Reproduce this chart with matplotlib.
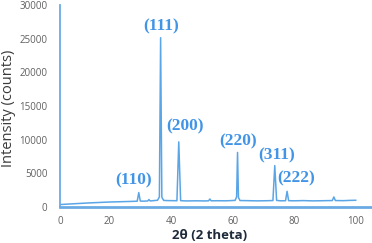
import matplotlib
matplotlib.use("Agg")
import matplotlib.pyplot as plt

# XRD pattern: 2-theta (deg) and intensity (counts)
two_theta = [3.9, 6, 8, 10, 13, 16, 20, 24, 27, 29.0, 29.5, 30.0, 31, 32.4, 32.8, 33.2,
             35.6, 36.2, 36.6, 37.0, 37.6, 39, 41.9, 42.5, 43.1, 45, 48, 51, 52.2, 52.6,
             53.0, 55, 58, 60.8, 61.3, 61.6, 61.9, 62.4, 65, 68, 71, 73.1, 73.7, 74.3,
             75.5, 77.2, 77.7, 78.2, 80, 83, 86, 89, 92.4, 92.9, 93.4, 96, 98, 100]
intensity = [360, 420, 470, 520, 600, 660, 740, 790, 830, 860, 2140, 880, 870, 890, 1100, 900,
             1000, 1500, 25140, 1450, 980, 950, 930, 9670, 940, 900, 920, 900, 920, 1190,
             920, 930, 920, 980, 1500, 8100, 1400, 960, 940, 910, 930, 960, 6150, 980,
             920, 930, 2330, 940, 920, 950, 910, 930, 960, 1490, 960, 940, 980, 1000]

# Miller index labels and where they sit
hkl_labels = ["(110)", "(111)", "(200)", "(220)", "(311)", "(222)"]
hkl_x = [27.8, 36.9, 44.4, 61.8, 74.3, 80.8]
hkl_y = [3880, 26870, 11940, 9700, 7600, 4180]

x_ticks = [20, 40, 60, 80, 100]
y_ticks = [0, 5000, 10000, 15000, 20000, 25000, 30000]

line_color = "#5aa5e6"
spine_color = "#6aaae4"
label_color = "#4294e6"

fig = plt.figure(figsize=(3.72, 2.43), dpi=100)
ax = fig.add_axes([60 / 372, 36 / 243, 312 / 372, 202 / 243])

ax.plot(two_theta, intensity, color=line_color, lw=1.1)

x_min, x_max = 3.9, 105.3
ax.set_xlim(x_min, x_max)
ax.set_ylim(0, 30000)

ax.set_xticks([x_min] + x_ticks)
ax.set_xticklabels(["0"] + [str(t) for t in x_ticks])
ax.set_yticks(y_ticks)
ax.set_yticklabels([str(t) for t in y_ticks])
ax.tick_params(axis="both", length=0, labelsize=7, labelcolor="#606060")
ax.tick_params(axis="x", pad=6.5)
ax.tick_params(axis="y", pad=9)
for lab in ax.get_xticklabels() + ax.get_yticklabels():
    lab.set_family("Open Sans")

for side in ["top", "right"]:
    ax.spines[side].set_visible(False)
ax.spines["left"].set_color(spine_color)
ax.spines["left"].set_linewidth(1.3)
ax.spines["bottom"].set_color(spine_color)
ax.spines["bottom"].set_linewidth(2.0)

for lab, x, y in zip(hkl_labels, hkl_x, hkl_y):
    ax.text(x, y, lab, ha="center", va="center", color=label_color,
            fontsize=12.5, fontweight="bold", family="Liberation Serif")

ax.set_ylabel("Intensity (counts)", family="Open Sans", fontsize=10.5, color="#3a3a3a")
ax.yaxis.set_label_coords(-0.142, 0.49)
ax.set_xlabel("2θ (2 theta)", family="Open Sans", fontsize=9.5, fontweight="bold",
              color="#1f2b3a")
ax.xaxis.set_label_coords(0.478, -0.108)

fig.savefig("out.png", dpi=100)
